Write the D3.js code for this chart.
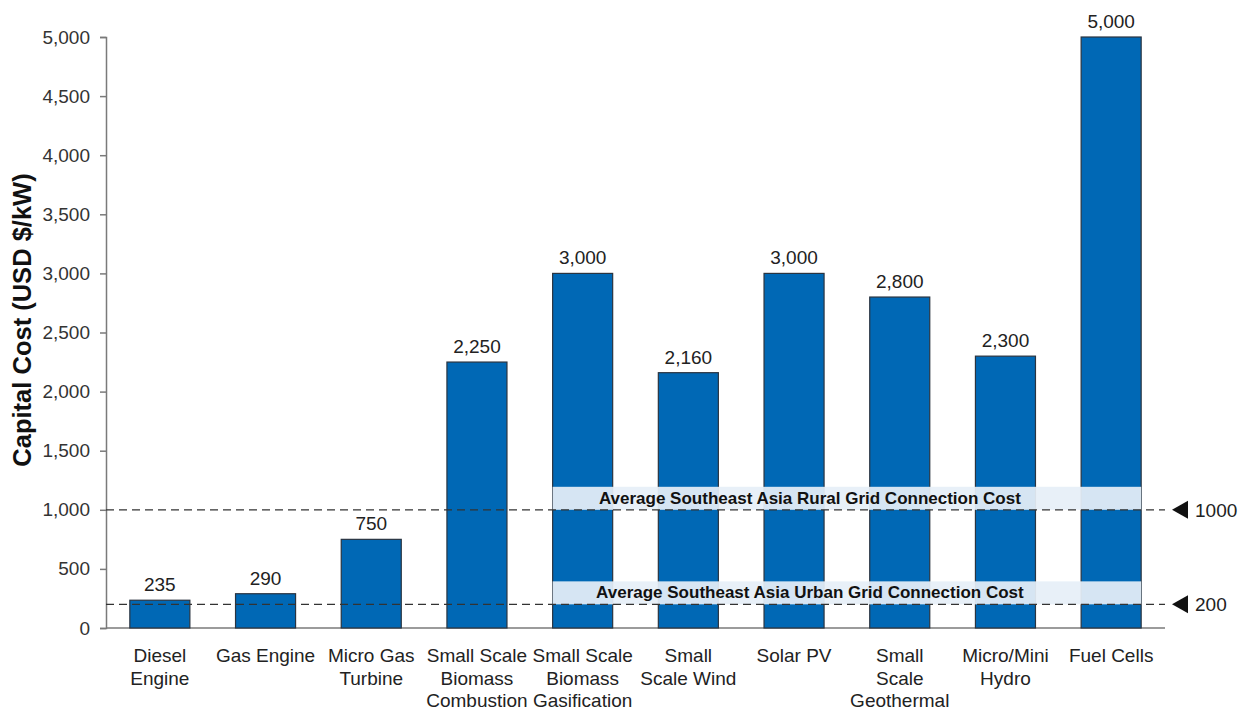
<!DOCTYPE html>
<html>
<head>
<meta charset="utf-8">
<script src="https://cdn.jsdelivr.net/npm/d3@7"></script>
<style>
  html, body { margin: 0; padding: 0; background: #fff; }
  svg { display: block; font-family: "Liberation Sans", Arial, sans-serif; }
</style>
</head>
<body>
<svg id="chart" width="1251" height="711"></svg>
<script>
// categories (split into display lines) and values
const categories = [
  ["Diesel", "Engine"],
  ["Gas Engine"],
  ["Micro Gas", "Turbine"],
  ["Small Scale", "Biomass", "Combustion"],
  ["Small Scale", "Biomass", "Gasification"],
  ["Small", "Scale Wind"],
  ["Solar PV"],
  ["Small", "Scale", "Geothermal"],
  ["Micro/Mini", "Hydro"],
  ["Fuel Cells"]
];
const capitalCost = [235, 290, 750, 2250, 3000, 2160, 3000, 2800, 2300, 5000];
const yTicks = [0, 500, 1000, 1500, 2000, 2500, 3000, 3500, 4000, 4500, 5000];

// reference lines
const refValues = [1000, 200];
const refLabels = [
  "Average Southeast Asia Rural Grid Connection Cost",
  "Average Southeast Asia Urban Grid Connection Cost"
];
const refMarkers = ["1000", "200"];

const svg = d3.select("#chart");
const plotLeft = 106, plotRight = 1165, plotTop = 37, plotBottom = 628;
const fs = 19;

const keys = categories.map(d => d.join(" "));
const x = d3.scaleBand().domain(keys).range([107, 1164]).paddingInner(0.432).paddingOuter(0.216);
const y = d3.scaleLinear().domain([0, 5000]).range([plotBottom, plotTop]);

// y axis
const yAxis = svg.append("g")
  .attr("transform", `translate(${plotLeft},0)`)
  .call(d3.axisLeft(y).tickValues(yTicks).tickSize(6).tickPadding(10).tickFormat(d3.format(",")));
yAxis.select(".domain").attr("stroke", "#7a7a7a").attr("stroke-width", 1.5);
yAxis.selectAll(".tick line").attr("stroke", "#7a7a7a").attr("stroke-width", 1.5);
yAxis.selectAll(".tick text").attr("font-size", fs).attr("fill", "#333").attr("font-family", "Liberation Sans, Arial, sans-serif");

// x axis line
svg.append("line")
  .attr("x1", plotLeft).attr("x2", plotRight)
  .attr("y1", y(0)).attr("y2", y(0))
  .attr("stroke", "#7a7a7a").attr("stroke-width", 1.5);

// y title
svg.append("text")
  .attr("transform", `translate(31,320) rotate(-90)`)
  .attr("text-anchor", "middle")
  .attr("font-size", 25.5).attr("font-weight", "bold").attr("fill", "#111")
  .text("Capital Cost (USD $/kW)");

// bars
svg.append("g").selectAll("rect")
  .data(capitalCost)
  .join("rect")
  .attr("x", (d, i) => x(keys[i]))
  .attr("width", x.bandwidth())
  .attr("y", d => y(d))
  .attr("height", d => y(0) - y(d))
  .attr("fill", "#0068b5")
  .attr("stroke", "#2a3440")
  .attr("stroke-width", 1.2);

// value labels
svg.append("g").selectAll("text")
  .data(capitalCost)
  .join("text")
  .attr("x", (d, i) => x(keys[i]) + x.bandwidth() / 2)
  .attr("y", d => y(d) - 9)
  .attr("text-anchor", "middle")
  .attr("font-size", fs).attr("fill", "#222")
  .text(d => d3.format(",")(d));

// category labels
const cat = svg.append("g").selectAll("text")
  .data(categories)
  .join("text")
  .attr("text-anchor", "middle")
  .attr("font-size", fs).attr("fill", "#222");
cat.selectAll("tspan")
  .data((d, i) => d.map(line => ({ line, i })))
  .join("tspan")
  .attr("x", d => x(keys[d.i]) + x.bandwidth() / 2)
  .attr("y", (d, j) => 662 + j * 22.5)
  .text(d => d.line);

// reference bands, dashed lines, markers
const bandX0 = x(keys[4]);
const bandX1 = x(keys[9]) + x.bandwidth();
refValues.forEach((v, i) => {
  const yy = y(v);
  svg.append("rect")
    .attr("x", bandX0).attr("width", bandX1 - bandX0)
    .attr("y", yy - 23).attr("height", 23)
    .attr("fill", "#e6eff8").attr("opacity", 0.93);
  svg.append("text")
    .attr("x", (bandX0 + bandX1) / 2 - 37)
    .attr("y", yy - 6)
    .attr("text-anchor", "middle")
    .attr("font-size", 17).attr("font-weight", "bold").attr("fill", "#111")
    .text(refLabels[i]);
  svg.append("line")
    .attr("x1", plotLeft).attr("x2", plotRight)
    .attr("y1", yy).attr("y2", yy)
    .attr("stroke", "#333").attr("stroke-width", 1.2)
    .attr("stroke-dasharray", "8,5");
  svg.append("path")
    .attr("d", `M${plotRight + 7},${yy} L${plotRight + 23},${yy - 9} L${plotRight + 23},${yy + 9} Z`)
    .attr("fill", "#111");
  svg.append("text")
    .attr("x", plotRight + 30).attr("y", yy + 7)
    .attr("font-size", fs).attr("fill", "#222")
    .text(refMarkers[i]);
});
</script>
</body>
</html>
